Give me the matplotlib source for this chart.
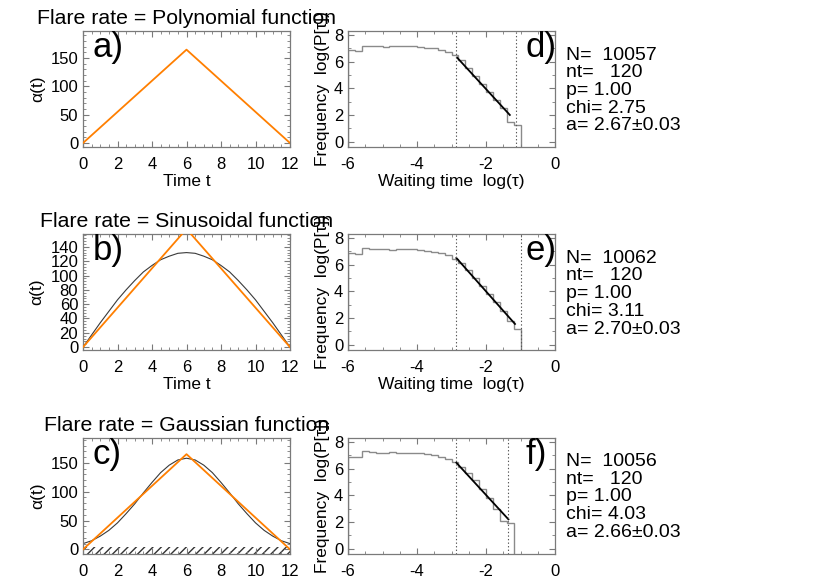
import matplotlib
matplotlib.use('Agg')
import matplotlib.pyplot as plt
from matplotlib.ticker import MultipleLocator

plt.rcParams['font.family'] = ['Liberation Sans', 'DejaVu Sans']
plt.rcParams['axes.unicode_minus'] = False

# left column: flare rate models
titles = ['Flare rate = Polynomial function',
          'Flare rate = Sinusoidal function',
          'Flare rate = Gaussian function']
left_tags = ['a)', 'b)', 'c)']
right_tags = ['d)', 'e)', 'f)']

tri_t = [0, 6, 12]
tri_a = [0, 165, 0]

t_half = [0, 0.5, 1, 1.5, 2, 2.5, 3, 3.5, 4, 4.5, 5, 5.5, 6,
          6.5, 7, 7.5, 8, 8.5, 9, 9.5, 10, 10.5, 11, 11.5, 12]
sin_rate = [0, 17, 34, 50, 66, 80, 93, 105, 114, 122, 127, 131, 132,
            131, 127, 122, 114, 105, 93, 80, 66, 50, 34, 17, 0]
gau_rate = [10, 15, 23, 33, 46, 62, 79, 98, 116, 133, 146, 155, 158,
            155, 146, 133, 116, 98, 79, 62, 46, 33, 23, 15, 10]
left_ylim = [(-7, 198), (-4, 158), (-8, 193)]
left_ystep = [50, 20, 50]

# right column: waiting time histograms (bins of 0.2 in log tau)
hist_d = [6.9, 6.8, 7.2, 7.15, 7.2, 7.1, 7.15, 7.15, 7.15, 7.15, 7.1, 7.05,
          7.0, 6.9, 6.75, 6.5, 6.1, 5.5, 4.9, 4.3, 3.7, 3.1, 2.5, 1.5, 1.25]
hist_e = [6.85, 6.8, 7.25, 7.2, 7.15, 7.15, 7.1, 7.15, 7.15, 7.15, 7.1, 7.05,
          6.95, 6.85, 6.7, 6.45, 6.1, 5.6, 5.0, 4.4, 3.8, 3.2, 2.5, 1.8, 1.2]
hist_f = [6.9, 6.9, 7.3, 7.25, 7.2, 7.2, 7.25, 7.2, 7.2, 7.2, 7.15, 7.1,
          7.0, 6.9, 6.75, 6.5, 6.15, 5.7, 5.15, 4.5, 3.8, 3.0, 2.1, 1.95]
hists = [hist_d, hist_e, hist_f]
fit_x = [[-2.84, -1.31], [-2.86, -1.16], [-2.86, -1.35]]
fit_y = [[6.31, 2.0], [6.5, 1.55], [6.45, 2.2]]
fit_lim = [[-2.88, -1.12], [-2.88, -1.0], [-2.88, -1.35]]

N = [10057, 10062, 10056]
nt = [120, 120, 120]
p = [1.00, 1.00, 1.00]
chi = [2.75, 3.11, 4.03]
a_val = [2.67, 2.70, 2.66]
a_err = [0.03, 0.03, 0.03]

orange = '#ff7f00'
frame = '#7a7a7a'

fig = plt.figure(figsize=(8.3, 5.8), dpi=100)
bottoms = [0.7466, 0.3966, 0.0448]


def style(ax):
    for s in ax.spines.values():
        s.set_color(frame)
        s.set_linewidth(0.9)
    ax.tick_params(which='both', direction='in', top=True, right=True,
                   color=frame, labelsize=12)
    ax.tick_params(which='major', length=4)
    ax.tick_params(which='minor', length=2)


for i in range(3):
    # left panel
    ax = fig.add_axes([0.1, bottoms[i], 0.2494, 0.2])
    style(ax)
    ax.plot(tri_t, tri_a, color=orange, lw=1.3, zorder=3)
    if i == 1:
        ax.plot(t_half, sin_rate, color='#3a3a3a', lw=0.8)
    if i == 2:
        ax.plot(t_half, gau_rate, color='#3a3a3a', lw=0.8)
        ax.fill_between([0, 12], left_ylim[i][0], 4, facecolor='none',
                        edgecolor='#333333', hatch='////', lw=0)
    ax.set_xlim(0, 12)
    ax.set_ylim(*left_ylim[i])
    ax.xaxis.set_major_locator(MultipleLocator(2))
    ax.xaxis.set_minor_locator(MultipleLocator(0.5))
    ax.yaxis.set_major_locator(MultipleLocator(left_ystep[i]))
    ax.yaxis.set_minor_locator(MultipleLocator(left_ystep[i] / 5))
    ax.tick_params(axis='x', pad=7)
    ax.set_ylabel('\u03b1(t)', fontsize=12.5)
    if i < 2:
        ax.set_xlabel('Time t', fontsize=12.5, labelpad=2)
    ax.set_title(titles[i], fontsize=15.3, pad=5)
    ax.text(0.045, 1.0, left_tags[i], transform=ax.transAxes, fontsize=25,
            ha='left', va='top')

    # right panel
    ax = fig.add_axes([0.4193, bottoms[i], 0.2494, 0.2])
    style(ax)
    h = hists[i]
    edges = [-6.0 + 0.2 * k for k in range(len(h) + 1)]
    ax.stairs(h, edges, baseline=-0.4, color='#8a8a8a', lw=1.0)
    ax.plot(fit_x[i], fit_y[i], color='black', lw=1.3)
    for xv in fit_lim[i]:
        ax.axvline(xv, color='#555555', lw=0.8, ls=(0, (1.2, 2)))
    ax.set_xlim(-6, 0)
    ax.set_ylim(-0.4, 8.3)
    ax.xaxis.set_major_locator(MultipleLocator(2))
    ax.xaxis.set_minor_locator(MultipleLocator(0.5))
    ax.yaxis.set_major_locator(MultipleLocator(2))
    ax.yaxis.set_minor_locator(MultipleLocator(1))
    ax.tick_params(axis='x', pad=7)
    ax.set_ylabel('Frequency  log(P[\u03c4])', fontsize=12.5, labelpad=3)
    if i < 2:
        ax.set_xlabel('Waiting time  log(\u03c4)', fontsize=12.5, labelpad=2)
    ax.text(0.855, 1.0, right_tags[i], transform=ax.transAxes, fontsize=25,
            ha='left', va='top')

    lines = ['N=  %d' % N[i], 'nt=   %d' % nt[i], 'p= %.2f' % p[i],
             'chi= %.2f' % chi[i], 'a= %.2f\u00b1%.2f' % (a_val[i], a_err[i])]
    for k, s in enumerate(lines):
        fig.text(566 / 830, 1 - (59.5 + 17.7 * k + 203.2 * i) / 580, s,
                 fontsize=14, ha='left', va='baseline')

fig.savefig('out.png', dpi=100)
